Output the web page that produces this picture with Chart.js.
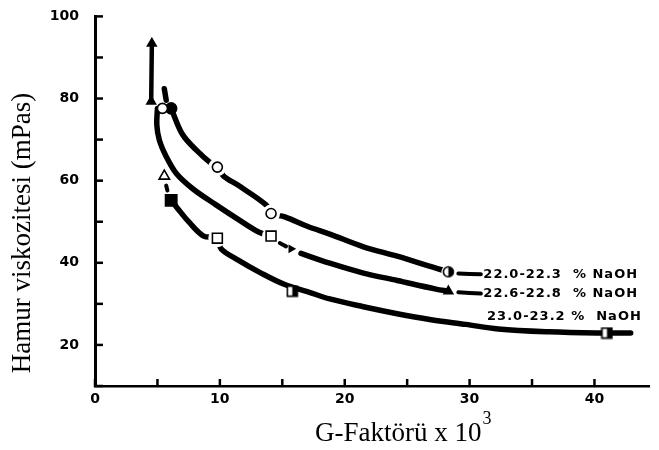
<!DOCTYPE html>
<html>
<head>
<meta charset="utf-8">
<title>Hamur viskozitesi</title>
<script src="https://cdn.jsdelivr.net/npm/chart.js@4/dist/chart.umd.min.js"></script>
<style>
  html, body { margin: 0; padding: 0; background: #fff; }
</style>
</head>
<body>
<canvas id="viscChart" width="659" height="450"></canvas>
<script>
// axis ticks
var xTickValues = [0, 5, 10, 15, 20, 25, 30, 35, 40];
var xTickLabels = ['0', '', '10', '', '20', '', '30', '', '40'];
var yTickValues = [10, 20, 30, 40, 50, 60, 70, 80, 90, 100];
var yTickLabels = ['', '20', '', '40', '', '60', '', '80', '', '100'];

var seriesNames = ['22.0-22.3  % NaOH', '22.6-22.8  % NaOH', '23.0-23.2 %  NaOH'];

// 22.0-22.3 % NaOH
var aOpenX = [5.4, 9.8, 14.1];
var aOpenY = [77.6, 63.3, 52.0];
var aSolidX = [6.1];
var aSolidY = [77.6];
var aHalfX = [28.3];
var aHalfY = [37.8];
var aCurveX = [6.1, 7.0, 8.1, 9.3, 9.8, 10.3, 11.5, 13.7, 14.1, 15.2, 17.0, 18.8, 21.5, 24.2, 27.3, 28.3];
var aCurveY = [77.6, 71.3, 67.5, 64.2, 63.3, 61.1, 58.8, 54.1, 52.0, 51.2, 48.9, 47.0, 43.9, 41.6, 38.7, 37.8];
var aStubX = [5.55, 5.7];
var aStubY = [82.4, 79.6];
var aLeadX = [29.1, 30.9];
var aLeadY = [37.4, 37.2];

// 22.6-22.8 % NaOH
var bTriX = [4.5, 28.3];
var bTriY = [79.3, 33.1];
var bArrowX = [4.55];
var bArrowY = [93.4];
var bRiseX = [4.5, 4.55];
var bRiseY = [79.3, 92.5];
var bOpenSqX = [14.1];
var bOpenSqY = [46.5];
var bNotchX = [15.7];
var bNotchY = [43.4];
var bCurveX = [5.0, 4.95, 5.15, 5.7, 6.5, 7.8, 9.7, 11.5, 13.1, 14.1];
var bCurveY = [77.6, 73.6, 69.9, 65.9, 61.8, 58.1, 54.1, 50.5, 47.5, 46.5];
var bDashX = [14.8, 15.3];
var bDashY = [44.8, 44.0];
var bTailX = [16.5, 18.8, 21.5, 24.2, 27.3, 28.3];
var bTailY = [42.3, 39.9, 37.5, 35.7, 33.6, 33.1];
var bLeadX = [29.1, 30.9];
var bLeadY = [32.8, 32.5];

// 23.0-23.2 % NaOH
var cOpenTriX = [5.55];
var cOpenTriY = [61.1];
var cSolidSqX = [6.1];
var cSolidSqY = [55.2];
var cOpenSqX = [9.8];
var cOpenSqY = [46.0];
var cHalfSqX = [15.8, 41.0];
var cHalfSqY = [33.1, 22.9];
var cStubX = [5.7, 5.8];
var cStubY = [58.8, 57.6];
var cCurveX = [6.1, 6.6, 7.5, 8.7, 9.8, 10.1, 11.5, 13.3, 15.2, 17.0, 18.8, 21.5, 24.2, 26.8, 29.7, 32.3, 36.3, 40.2, 42.9];
var cCurveY = [55.2, 53.3, 50.0, 46.5, 46.0, 43.4, 40.6, 37.5, 34.7, 33.0, 31.2, 29.3, 27.6, 26.2, 25.0, 23.9, 23.2, 22.9, 22.9];

Chart.defaults.font.family = '"DejaVu Sans", sans-serif';
Chart.defaults.color = '#000';

function pts(xs, ys) {
    return xs.map(function (x, i) { return { x: x, y: ys[i] }; });
}

function curve(xs, ys, width) {
    return {
        data: pts(xs, ys), showLine: true, borderColor: '#000', borderWidth: width || 5.5,
        borderCapStyle: 'round', pointRadius: 0, tension: 0.35, order: 3
    };
}

// white disc under open symbols so the line breaks around them
function halo(xs, ys, r) {
    return { data: pts(xs, ys), pointRadius: r, pointBackgroundColor: '#fff', pointBorderWidth: 0, order: 2 };
}

function marker(xs, ys, style, r, fill, rot) {
    return {
        data: pts(xs, ys), pointStyle: style, pointRadius: r, pointBackgroundColor: fill,
        pointBorderColor: '#000', pointBorderWidth: 1.6, pointRotation: rot || 0, order: 1
    };
}

function halfSymbol(shape) {
    var c = document.createElement('canvas');
    c.width = 13; c.height = 13;
    var g = c.getContext('2d');
    g.lineWidth = 1.6;
    g.strokeStyle = '#000';
    if (shape === 'circle') {
        g.beginPath(); g.arc(6.5, 6.5, 5, 0, Math.PI * 2);
        g.fillStyle = '#fff'; g.fill(); g.stroke();
        g.beginPath(); g.arc(6.5, 6.5, 5, -Math.PI / 2, Math.PI / 2); g.closePath();
        g.fillStyle = '#000'; g.fill();
    } else {
        g.fillStyle = '#fff'; g.fillRect(1.5, 1.5, 10, 10);
        g.strokeRect(1.5, 1.5, 10, 10);
        g.fillStyle = '#000'; g.fillRect(6.5, 1.5, 5, 10);
    }
    return c;
}

var insideTicks = {
    id: 'insideTicks',
    afterDraw: function (chart) {
        var ctx = chart.ctx, xs = chart.scales.x, ys = chart.scales.y, area = chart.chartArea;
        ctx.save();
        ctx.strokeStyle = '#000';
        ctx.lineWidth = 2.5;
        xTickValues.forEach(function (v) {
            var px = xs.getPixelForValue(v);
            ctx.beginPath(); ctx.moveTo(px, area.bottom + 1); ctx.lineTo(px, area.bottom - 7); ctx.stroke();
        });
        yTickValues.forEach(function (v) {
            var py = ys.getPixelForValue(v);
            ctx.beginPath(); ctx.moveTo(area.left - 1, py); ctx.lineTo(area.left + 8, py); ctx.stroke();
        });
        ctx.restore();
    }
};

var textLayer = {
    id: 'textLayer',
    afterDraw: function (chart, args, opts) {
        var ctx = chart.ctx, xs = chart.scales.x, ys = chart.scales.y;
        ctx.save();
        ctx.fillStyle = '#000';

        // axis titles
        ctx.font = '27px "Liberation Serif", serif';
        ctx.textBaseline = 'alphabetic';
        ctx.save();
        ctx.translate(30, 233);
        ctx.rotate(-Math.PI / 2);
        ctx.textAlign = 'center';
        ctx.fillText('Hamur viskozitesi (mPas)', 0, 0);
        ctx.restore();

        ctx.textAlign = 'left';
        var base = 'G-Faktörü x 10';
        ctx.fillText(base, 315, 441);
        var w = ctx.measureText(base).width;
        ctx.font = '18px "Liberation Serif", serif';
        ctx.fillText('3', 315 + w + 1, 424);

        // series labels
        ctx.font = 'bold 13px "DejaVu Sans", sans-serif';
        ctx.letterSpacing = '1px';
        ctx.textBaseline = 'middle';
        opts.anchors.forEach(function (a, i) {
            ctx.fillText(seriesNames[i], xs.getPixelForValue(a[0]), ys.getPixelForValue(a[1]));
        });
        ctx.restore();
    }
};

var datasets = [
    // lines
    curve(aStubX, aStubY), curve(aCurveX, aCurveY), curve(aLeadX, aLeadY, 4),
    curve(bRiseX, bRiseY, 4.5), curve(bCurveX, bCurveY), curve(bDashX, bDashY, 4),
    curve(bTailX, bTailY), curve(bLeadX, bLeadY, 4),
    curve(cStubX, cStubY, 4), curve(cCurveX, cCurveY),
    // gaps
    halo([9.8, 14.1], [63.3, 52.0], 9),
    halo(bOpenSqX, bOpenSqY, 9),
    halo(cOpenSqX, cOpenSqY, 9),
    halo(aHalfX, aHalfY, 7),
    // symbols
    marker(aOpenX, aOpenY, 'circle', 5, '#fff'),
    marker(aSolidX, aSolidY, 'circle', 5.5, '#000'),
    marker(aHalfX, aHalfY, halfSymbol('circle'), 5, '#000'),
    marker(bTriX, bTriY, 'triangle', 5, '#000'),
    marker(bArrowX, bArrowY, 'triangle', 5, '#000'),
    marker(bOpenSqX, bOpenSqY, 'rect', 7, '#fff'),
    marker(bNotchX, bNotchY, 'triangle', 3.5, '#000', 90),
    marker(cOpenTriX, cOpenTriY, 'triangle', 6, '#fff'),
    marker(cSolidSqX, cSolidSqY, 'rect', 8, '#000'),
    marker(cOpenSqX, cOpenSqY, 'rect', 7, '#fff'),
    marker(cHalfSqX, cHalfSqY, halfSymbol('rect'), 5, '#000')
];

var ctx = document.getElementById('viscChart');
var viscChart = new Chart(ctx, {
    type: 'scatter',
    data: { datasets: datasets },
    options: {
        responsive: false,
        devicePixelRatio: 1,
        animation: false,
        events: [],
        layout: { padding: { top: 8, right: 4, left: 0, bottom: 0 } },
        plugins: {
            legend: { display: false },
            tooltip: { enabled: false },
            textLayer: { anchors: [[31.1, 37.2], [31.1, 32.4], [31.4, 26.9]] }
        },
        scales: {
            x: {
                type: 'linear', min: 0, max: 44.4,
                afterBuildTicks: function (s) { s.ticks = xTickValues.map(function (v) { return { value: v }; }); },
                afterFit: function (s) { s.height = 64; },
                grid: { display: false },
                border: { display: true, color: '#000', width: 2.5 },
                ticks: {
                    padding: -3, maxRotation: 0, autoSkip: false,
                    font: { size: 14, weight: 'bold' },
                    callback: function (v) { return xTickLabels[xTickValues.indexOf(v)]; }
                }
            },
            y: {
                type: 'linear', min: 10, max: 100,
                afterBuildTicks: function (s) { s.ticks = yTickValues.map(function (v) { return { value: v }; }); },
                afterFit: function (s) { s.width = 95; },
                grid: { display: false },
                border: { display: true, color: '#000', width: 3 },
                ticks: {
                    padding: 8, autoSkip: false,
                    font: { size: 14, weight: 'bold' },
                    callback: function (v) { return yTickLabels[yTickValues.indexOf(v)]; }
                }
            }
        }
    },
    plugins: [insideTicks, textLayer]
});
</script>
</body>
</html>
